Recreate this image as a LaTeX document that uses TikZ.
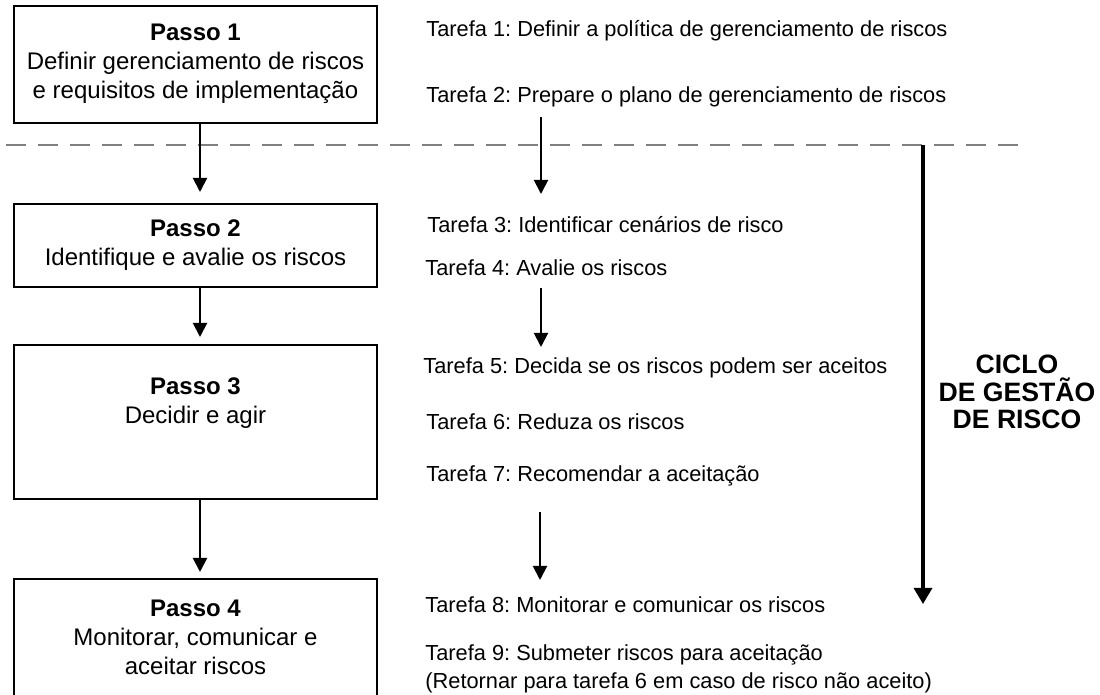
\documentclass[tikz,border=0pt]{standalone}
\usepackage{fontspec}
\setmainfont{Liberation Sans}
\usetikzlibrary{arrows.meta}
\frenchspacing
\begin{document}
\begin{tikzpicture}[x=0.5pt,y=-0.5pt,
  stepbox/.style={draw, line width=1pt, minimum width=181.5pt, inner sep=0pt},
  boxtxt/.style={align=center, inner sep=0pt, font=\fontsize{12}{14.5}\selectfont},
  task/.style={anchor=west, inner sep=0pt, font=\fontsize{10.9}{13.8}\selectfont},
  arr/.style={line width=1pt, -{Triangle[width=7pt,length=7pt]}},
  bigarr/.style={line width=1.6pt, -{Triangle[width=9pt,length=8pt]}},
  sep/.style={draw=black!50, line width=1pt, dash pattern=on 10pt off 6pt}]
\useasboundingbox (0,0) rectangle (1100,695);
\clip (0,0) rectangle (1100,695);
\fill[white] (0,0) rectangle (1100,695);
% dashed separator
\coordinate (d1) at (6,145);
\coordinate (d2) at (1030,145);
\draw[sep] (d1) -- (d2);
% step boxes
\node[stepbox, minimum height=58.5pt] (b1) at (195.5,64.5) {};
\node[stepbox, minimum height=41.5pt] (b2) at (195.5,245.5) {};
\node[stepbox, minimum height=77pt] (b3) at (195.5,422) {};
\node[stepbox, minimum height=70.5pt] (b4) at (195.5,649.5) {};
\node[boxtxt] (l1) at (195.5,64) {\textbf{Passo 1}\\Definir gerenciamento de riscos\\e requisitos de implementação};
\node[boxtxt] (l2) at (195.5,245) {\textbf{Passo 2}\\Identifique e avalie os riscos};
\node[boxtxt] (l3) at (195.5,403.5) {\textbf{Passo 3}\\Decidir e agir};
\node[boxtxt] (l4) at (195.5,637) {\textbf{Passo 4}\\Monitorar, comunicar e\\aceitar riscos};
% arrows between steps
\draw[arr, shorten >=5.5pt] ([xshift=2.25pt]b1.south) -- ([xshift=2.25pt]b2.north);
\draw[arr, shorten >=3.5pt] ([xshift=2.25pt]b2.south) -- ([xshift=2.25pt]b3.north);
\draw[arr, shorten >=3pt] ([xshift=2.25pt]b3.south) -- ([xshift=2.25pt]b4.north);
% tasks
\node[task] (t1) at (426,31) {Tarefa 1: Definir a política de gerenciamento de riscos};
\node[task] (t2) at (426,97) {Tarefa 2: Prepare o plano de gerenciamento de riscos};
\node[task] (t3) at (427,225) {Tarefa 3: Identificar cenários de risco};
\node[task] (t4) at (425,268) {Tarefa 4: Avalie os riscos};
\node[task] (t5) at (423,368) {Tarefa 5: Decida se os riscos podem ser aceitos};
\node[task] (t6) at (426,422) {Tarefa 6: Reduza os riscos};
\node[task] (t7) at (426,476) {Tarefa 7: Recomendar a aceitação};
\node[task] (t8) at (425,605) {Tarefa 8: Monitorar e comunicar os riscos};
\node[task, align=left] (t9) at (425,669) {Tarefa 9: Submeter riscos para aceitação\\(Retornar para tarefa 6 em caso de risco não aceito)};
% task arrows
\coordinate (ta1) at (541,117);
\coordinate (tb1) at (541,194);
\coordinate (ta2) at (541,288);
\coordinate (tb2) at (541,347);
\coordinate (ta3) at (540,512);
\coordinate (tb3) at (540,580);
\draw[arr] (ta1) -- (tb1);
\draw[arr] (ta2) -- (tb2);
\draw[arr] (ta3) -- (tb3);
% cycle arrow
\coordinate (ca) at (923,145);
\coordinate (cb) at (923,604);
\draw[bigarr] (ca) -- (cb);
\node[align=center, inner sep=0pt, font=\fontsize{13.3}{13.9}\selectfont\bfseries] (cyc) at (1017,392) {CICLO\\DE GESTÃO\\DE RISCO};
\end{tikzpicture}
\end{document}
